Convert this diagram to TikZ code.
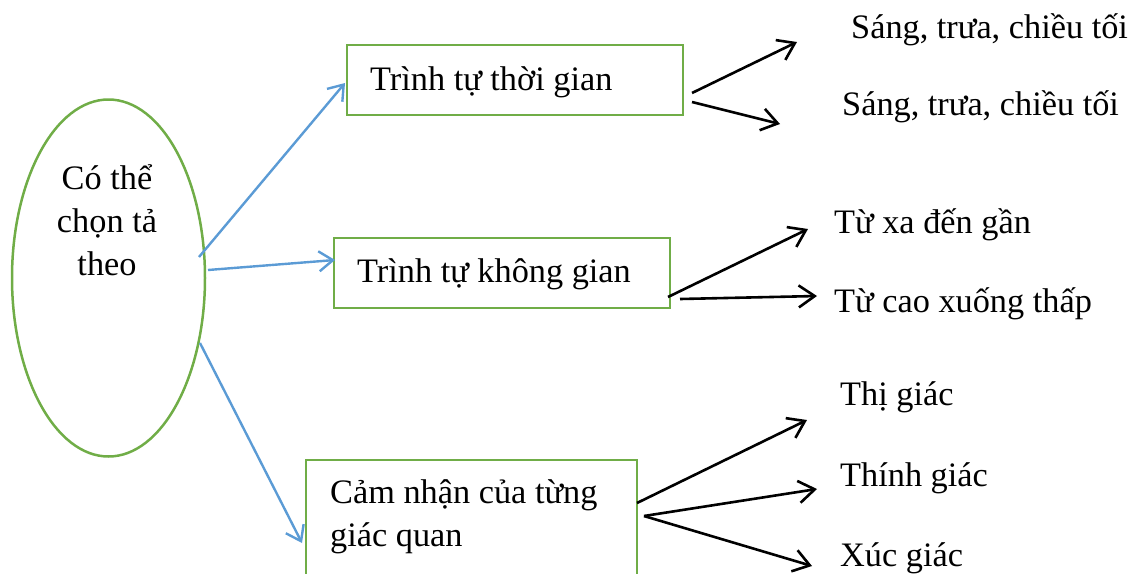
\documentclass[tikz,border=0pt]{standalone}
\usepackage{fontspec}
\setmainfont{Liberation Serif}
\usetikzlibrary{shapes.geometric,arrows.meta}
\definecolor{grn}{HTML}{70AD47}
\definecolor{blu}{HTML}{5B9BD5}
\begin{document}
\begin{tikzpicture}[x=1pt,y=-1pt,
  box/.style={draw=grn,line width=2.5pt,inner sep=0pt},
  lbl/.style={anchor=base west,inner sep=0pt,font=\fontsize{34.3}{43}\selectfont},
  clbl/.style={anchor=base,inner sep=0pt,font=\fontsize{34.3}{43}\selectfont},
  barrow/.style={blu,line width=2.4pt,-{Straight Barb[length=14pt,width=20pt]}},
  karrow/.style={black,line width=2.6pt,-{Straight Barb[length=16pt,width=22pt]}}]
\useasboundingbox (0,0) rectangle (1135,573);
\clip (0,0) rectangle (1135,573);
% central ellipse
\node[draw=grn,line width=2.5pt,ellipse,minimum width=193pt,minimum height=357pt,inner sep=0pt] (ell) at (108.5,278) {};
\node[clbl] (e1) at (107,189) {Có thể};
\node[clbl] (e2) at (107,232) {chọn tả};
\node[clbl] (e3) at (107,275) {theo};
% boxes
\node[box,minimum width=336pt,minimum height=70pt] (b1) at (515,80) {};
\node[lbl] (t1) at (370,90) {Trình tự thời gian};
\node[box,minimum width=336pt,minimum height=70pt] (b2) at (502,273) {};
\node[lbl] (t2) at (357,282) {Trình tự không gian};
\node[box,minimum width=331pt,minimum height=150pt] (b3) at (471.5,535) {};
\node[lbl] (t3a) at (330,503) {Cảm nhận của từng};
\node[lbl] (t3b) at (330,546) {giác quan};
% right labels
\node[lbl] (r1) at (851,38) {Sáng, trưa, chiều tối};
\node[lbl] (r2) at (842,115) {Sáng, trưa, chiều tối};
\node[lbl] (r3) at (834,233) {Từ xa đến gần};
\node[lbl] (r4) at (834,312) {Từ cao xuống thấp};
\node[lbl] (r5) at (840,405) {Thị giác};
\node[lbl] (r6) at (840,486) {Thính giác};
\node[lbl] (r7) at (840,566) {Xúc giác};
% connector points
\coordinate (a1s) at (199,257); \coordinate (a1e) at (345,83);
\coordinate (a2s) at (208,270); \coordinate (a2e) at (335,260);
\coordinate (a3s) at (200,343); \coordinate (a3e) at (302,543);
\coordinate (k1s) at (692,93);  \coordinate (k1e) at (797,42);
\coordinate (k2s) at (692,102); \coordinate (k2e) at (780,124);
\coordinate (k3s) at (668,297); \coordinate (k3e) at (808,229);
\coordinate (k4s) at (680,299); \coordinate (k4e) at (817,296);
\coordinate (k5s) at (637,503); \coordinate (k5e) at (807,420);
\coordinate (k6s) at (644,516); \coordinate (k6e) at (817,489);
\coordinate (k7e) at (812,566);
% connectors
\draw[barrow] (a1s) -- (a1e);
\draw[barrow] (a2s) -- (a2e);
\draw[barrow] (a3s) -- (a3e);
\draw[karrow] (k1s) -- (k1e);
\draw[karrow] (k2s) -- (k2e);
\draw[karrow] (k3s) -- (k3e);
\draw[karrow] (k4s) -- (k4e);
\draw[karrow] (k5s) -- (k5e);
\draw[karrow] (k6s) -- (k6e);
\draw[karrow] (k6s) -- (k7e);
\end{tikzpicture}
\end{document}
